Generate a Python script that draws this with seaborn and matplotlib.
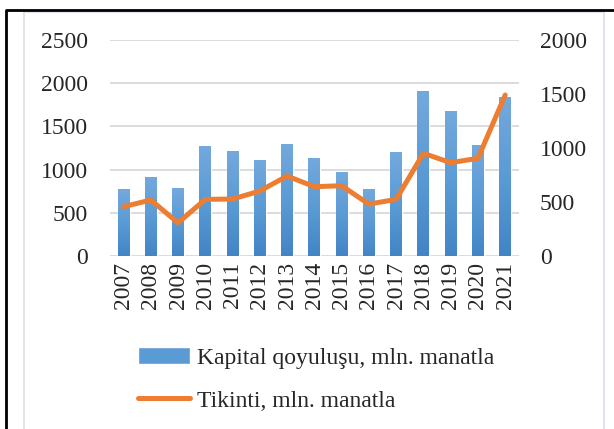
import numpy as np
import pandas as pd
import seaborn as sns
import matplotlib.pyplot as plt
from matplotlib.colors import LinearSegmentedColormap
from matplotlib.patches import Rectangle
from matplotlib.lines import Line2D

years = ['2007', '2008', '2009', '2010', '2011', '2012', '2013', '2014',
         '2015', '2016', '2017', '2018', '2019', '2020', '2021']
kapital = [775, 914, 787, 1273, 1215, 1111, 1296, 1134,
           972, 775, 1204, 1910, 1678, 1285, 1840]
tikinti = [457, 519, 308, 525, 528, 602, 741, 642,
           651, 481, 525, 951, 864, 905, 1490]
left_ticks = [0, 500, 1000, 1500, 2000, 2500]
right_ticks = [0, 500, 1000, 1500, 2000]

bar_label = 'Kapital qoyuluşu, mln. manatla'
line_label = 'Tikinti, mln. manatla'

df = pd.DataFrame({'year': years, 'kapital': kapital, 'tikinti': tikinti})

sns.set_style('white')
plt.rcParams['font.family'] = ['Liberation Serif', 'DejaVu Serif']

fig = plt.figure(figsize=(6.14, 4.29), dpi=100)
ax = fig.add_axes([0.179, 0.403, 0.666, 0.504])

sns.barplot(data=df, x='year', y='kapital', color='#5b9bd5', width=0.44,
            saturation=1, ax=ax)

# gradient fill, light at top, darker at bottom
cmap = LinearSegmentedColormap.from_list('blu', ['#4384c6', '#5b9bd5', '#74a9dd'])
grad = np.linspace(0, 1, 256).reshape(-1, 1)
for p in ax.patches:
    x0, y0 = p.get_x(), p.get_y()
    w, h = p.get_width(), p.get_height()
    im = ax.imshow(grad, cmap=cmap, origin='lower', aspect='auto',
                   extent=(x0, x0 + w, y0, y0 + h), zorder=2)
    im.set_clip_path(p)
    p.set_facecolor('none')

ax.set_xlim(-0.5, len(years) - 0.5)
ax.set_ylim(0, 2500)
ax.set_yticks(left_ticks)
ax.yaxis.grid(True, color='#d9d9d9', linewidth=1.3)
ax.set_axisbelow(True)
for s in ax.spines.values():
    s.set_visible(False)
ax.set_xlabel('')
ax.set_ylabel('')
ax.tick_params(axis='x', labelrotation=90, labelsize=17, length=0, pad=4)
ax.tick_params(axis='y', labelsize=17, length=0, pad=16)

ax2 = ax.twinx()
sns.lineplot(data=df, x='year', y='tikinti', color='#ed7d31', linewidth=3.6,
             sort=False, ax=ax2)
ax2.lines[0].set_solid_capstyle('round')
ax2.lines[0].set_solid_joinstyle('round')
ax2.set_ylim(0, 2000)
ax2.set_yticks(right_ticks)
ax2.set_ylabel('')
for s in ax2.spines.values():
    s.set_visible(False)
ax2.tick_params(axis='y', labelsize=17, length=0, pad=15)
ax2.set_xlim(-0.5, len(years) - 0.5)

handles = [Rectangle((0, 0), 1, 1, facecolor='#5b9bd5'),
           Line2D([], [], color='#ed7d31', linewidth=3.6, solid_capstyle='round')]
fig.legend(handles, [bar_label, line_label], loc='upper left',
           bbox_to_anchor=(0.19, 0.24), frameon=False, fontsize=17,
           handlelength=2.2, handletextpad=0.3, labelspacing=0.9)

# chart area frame and outer border (top and left only)
fig.patches.append(Rectangle((24 / 614, -0.1), 580 / 614, 1 - 12 / 429 + 0.1,
                             transform=fig.transFigure, fill=False,
                             edgecolor='#d9dee6', linewidth=1.2))
fig.lines.append(Line2D([6 / 614, 6 / 614, 1.0], [0, 1 - 10 / 429, 1 - 10 / 429],
                        transform=fig.transFigure, color='black', linewidth=2))

fig.savefig('out.png', dpi=100)
